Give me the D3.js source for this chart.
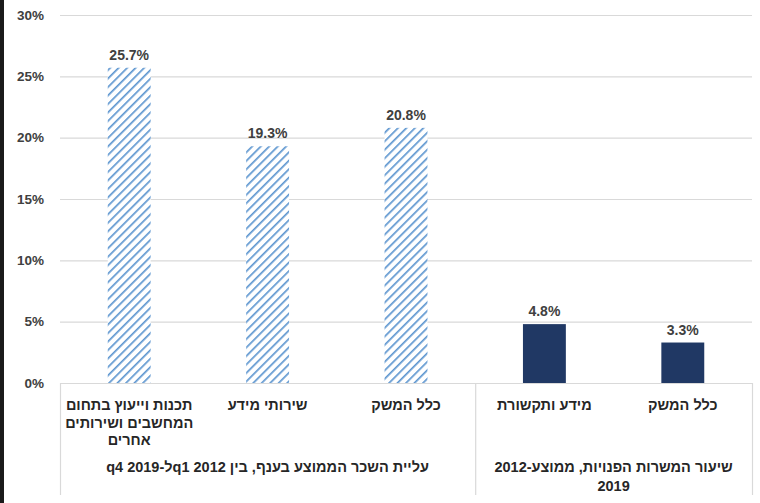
<!DOCTYPE html>
<html>
<head>
<meta charset="utf-8">
<script src="https://cdn.jsdelivr.net/npm/d3@7"></script>
<style>
  body { margin: 0; background: #fff; }
  svg { display: block; font-family: "Liberation Sans", Arial, sans-serif; }
</style>
</head>
<body>
<div id="chart"></div>
<script>
// data
const categories = ['software', 'infoServices', 'economyA', 'infoComm', 'economyB'];
const categoryLines = [
	['תכנות וייעוץ בתחום', 'המחשבים ושירותים', 'אחרים'],
	['שירותי מידע'],
	['כלל המשק'],
	['מידע ותקשורת'],
	['כלל המשק']
];
const values = [25.7, 19.3, 20.8, 4.8, 3.3];
const barKind = ['hatch', 'hatch', 'hatch', 'solid', 'solid'];
const groupNames = [
	['עליית השכר הממוצע בענף, בין 2012 q1ל-2019 q4'],
	['שיעור המשרות הפנויות, ממוצע-2012', '2019']
];
const groupSpans = [[0, 3], [3, 5]];
const yTicks = [0, 5, 10, 15, 20, 25, 30];

const width = 760,
	height = 503,
	margin = {top: 15, right: 8, bottom: 120, left: 60},
	innerWidth = width - margin.left - margin.right,
	innerHeight = height - margin.top - margin.bottom;

const svg = d3.select('#chart')
	.append('svg')
	.attr('width', width)
	.attr('height', height);

// the dark strip on the left edge of the screenshot
svg.append('rect')
	.attr('x', 0).attr('y', 0)
	.attr('width', 4).attr('height', height)
	.attr('fill', '#1a1a1a');

// stripes for the first group
const defs = svg.append('defs');
const pat = defs.append('pattern')
	.attr('id', 'hatch')
	.attr('patternUnits', 'userSpaceOnUse')
	.attr('width', 6)
	.attr('height', 6)
	.attr('patternTransform', 'rotate(45)');
pat.append('rect')
	.attr('width', 6).attr('height', 6)
	.attr('fill', '#fff');
pat.append('line')
	.attr('x1', 0).attr('y1', 0)
	.attr('x2', 0).attr('y2', 6)
	.attr('stroke', '#5f97d0')
	.attr('stroke-width', 3.4);

const xScale = d3.scaleBand()
	.domain(categories)
	.range([0, innerWidth])
	.paddingInner(0)
	.paddingOuter(0);

const yScale = d3.scaleLinear()
	.domain([0, 30])
	.range([innerHeight, 0]);

const g = svg.append('g')
	.attr('transform', `translate(${margin.left},${margin.top})`);

// grid lines
g.append('g')
	.classed('grid', true)
	.selectAll('line')
	.data(yTicks)
	.join('line')
	.attr('x1', 0)
	.attr('x2', innerWidth)
	.attr('y1', d => yScale(d) + 0.5)
	.attr('y2', d => yScale(d) + 0.5)
	.style('stroke', '#d9d9d9')
	.style('stroke-width', 1.2);

// y axis
const yAxis = d3.axisLeft(yScale)
	.tickValues(yTicks)
	.tickFormat(d => d + '%')
	.tickSizeInner(0)
	.tickSizeOuter(0)
	.tickPadding(16);

g.append('g')
	.attr('class', 'y axis')
	.call(yAxis)
	.call(s => s.select('.domain').remove())
	.selectAll('text')
	.style('font-size', '13.5px')
	.style('font-weight', 'bold')
	.style('fill', '#404040');

// bars
const bw = xScale.bandwidth() * 0.31;
g.append('g')
	.classed('bars', true)
	.selectAll('rect')
	.data(values)
	.join('rect')
	.attr('x', (d, i) => xScale(categories[i]) + xScale.bandwidth() / 2 - bw / 2)
	.attr('y', d => yScale(d))
	.attr('width', bw)
	.attr('height', d => innerHeight - yScale(d))
	.attr('fill', (d, i) => barKind[i] === 'hatch' ? 'url(#hatch)' : '#203864');

// value labels
g.append('g')
	.selectAll('text')
	.data(values)
	.join('text')
	.attr('x', (d, i) => xScale(categories[i]) + xScale.bandwidth() / 2)
	.attr('y', d => yScale(d) - 8)
	.attr('text-anchor', 'middle')
	.style('font-size', '14px')
	.style('font-weight', 'bold')
	.style('fill', '#404040')
	.text(d => d.toFixed(1) + '%');

// category axis box
const sepBottom = 495 - margin.top;
const seps = [0, ...groupSpans.map(s => s[1])];
g.append('g')
	.selectAll('line')
	.data(seps)
	.join('line')
	.attr('x1', d => (d === 0 ? 0 : xScale(categories[d - 1]) + xScale.bandwidth()) + 0.5)
	.attr('x2', d => (d === 0 ? 0 : xScale(categories[d - 1]) + xScale.bandwidth()) + 0.5)
	.attr('y1', innerHeight)
	.attr('y2', sepBottom)
	.style('stroke', '#d9d9d9')
	.style('stroke-width', 1.2);

// category labels
const catLabels = g.append('g').classed('cat-labels', true);
categoryLines.forEach((lines, i) => {
	const t = catLabels.append('text')
		.attr('direction', 'rtl')
		.attr('text-anchor', 'middle')
		.attr('x', xScale(categories[i]) + xScale.bandwidth() / 2)
		.attr('y', innerHeight + 27)
		.style('font-size', '14.5px')
		.style('font-weight', 'bold')
		.style('fill', '#262626');
	lines.forEach((l, j) => {
		t.append('tspan')
			.attr('x', xScale(categories[i]) + xScale.bandwidth() / 2)
			.attr('dy', j === 0 ? 0 : 17.5)
			.text(l);
	});
});

// group labels
groupNames.forEach((lines, i) => {
	const span = groupSpans[i];
	const x0 = xScale(categories[span[0]]);
	const x1 = xScale(categories[span[1] - 1]) + xScale.bandwidth();
	const t = g.append('text')
		.attr('direction', 'rtl')
		.attr('text-anchor', 'middle')
		.attr('x', (x0 + x1) / 2)
		.attr('y', innerHeight + 89)
		.style('font-size', '14.5px')
		.style('font-weight', 'bold')
		.style('fill', '#262626');
	lines.forEach((l, j) => {
		t.append('tspan')
			.attr('x', (x0 + x1) / 2)
			.attr('dy', j === 0 ? 0 : 19)
			.text(l);
	});
});
</script>
</body>
</html>
